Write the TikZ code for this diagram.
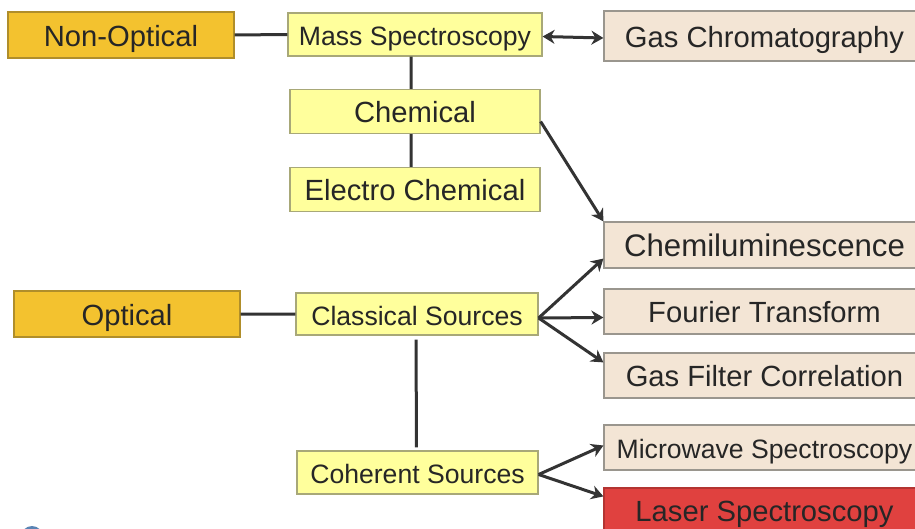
\documentclass[tikz,border=0pt]{standalone}
\usepackage{fontspec}
\setmainfont{Liberation Sans}
\usetikzlibrary{calc, arrows.meta}
\definecolor{gold}{HTML}{F3C22F}
\definecolor{goldline}{HTML}{B08E2A}
\definecolor{lemon}{HTML}{FFFF9C}
\definecolor{lemonline}{HTML}{A8A878}
\definecolor{sand}{HTML}{F3E5D5}
\definecolor{sandline}{HTML}{9A968E}
\definecolor{laserred}{HTML}{E0413F}
\definecolor{wire}{HTML}{333333}
\definecolor{markblue}{HTML}{5A84B4}
\tikzset{>={Stealth[length=6pt,width=7pt]},
  box/.style={draw, line width=0.6pt, inner sep=0pt, text=black!85, text height=11.4pt, text depth=0pt},
  topbox/.style={box, fill=gold, draw=goldline, minimum width=113pt, minimum height=23pt, font=\fontsize{14.6}{16}\selectfont},
  midbox/.style={box, fill=lemon, draw=lemonline, minimum width=125pt, minimum height=22pt, font=\fontsize{13.3}{15}\selectfont},
  endbox/.style={box, fill=sand, draw=sandline, minimum width=160.5pt, minimum height=22.5pt, font=\fontsize{14.6}{16}\selectfont},
  wire/.style={draw=wire, line width=1.5pt}
}
\begin{document}
\begin{tikzpicture}[x=0.5pt, y=-0.5pt]
\useasboundingbox (0,0) rectangle (915,529);
\clip (0,0) rectangle (915,529);
% left column
\node[topbox] (nonopt) at (121,35) {Non-Optical};
\node[topbox] (optical) at (127,314) {Optical};
% middle column
\node[midbox, minimum width=127pt, minimum height=21.5pt] (mass) at (415,34.5) {Mass Spectroscopy};
\node[midbox, font=\fontsize{14.6}{16}\selectfont] (chem) at (415,111.5) {Chemical};
\node[midbox, font=\fontsize{14.6}{16}\selectfont] (electro) at (415,189.5) {Electro Chemical};
\node[midbox, minimum width=121pt, minimum height=21pt] (classical) at (417,314) {Classical Sources};
\node[midbox, minimum width=120.5pt, minimum height=21.5pt] (coherent) at (417.5,472.5) {Coherent Sources};
% right column
\node[endbox, minimum height=25pt] (gaschrom) at (764.5,36) {Gas Chromatography};
\node[endbox, minimum height=23pt, font=\fontsize{15.6}{17}\selectfont] (chemlum) at (764.5,245) {Chemiluminescence};
\node[endbox] (fourier) at (764.5,311.5) {Fourier Transform};
\node[endbox] (gasfilter) at (764.5,375.5) {Gas Filter Correlation};
\node[endbox, font=\fontsize{13.3}{15}\selectfont] (microwave) at (764.5,447.5) {Microwave Spectroscopy};
\node[endbox, fill=laserred, draw=laserred!80!black, minimum height=22pt] (laser) at (764.5,510) {Laser Spectroscopy};
% connectors
\path[wire]
(nonopt.east) -- (mass.west)
(optical.east) -- (classical.west);
\path[wire, shorten <=2pt, shorten >=1.5pt]
([xshift=-2pt]mass.south) -- ([xshift=-2pt]chem.north)
([xshift=-2pt]chem.south) -- ([xshift=-2pt]electro.north)
([xshift=-0.5pt]classical.south) -- ([xshift=-0.5pt]coherent.north);
\path[wire, <->] ([yshift=-1pt]mass.east) -- ([yshift=-1pt]gaschrom.west);
\path[wire, ->] ([yshift=-5pt]chem.east) -- (chemlum.north west);
\path[wire, ->] ([yshift=-2pt]classical.east) -- ([yshift=5pt]chemlum.south west);
\path[wire, ->] ([yshift=-2pt]classical.east) -- ([yshift=-3pt]fourier.west);
\path[wire, ->] ([yshift=-2pt]classical.east) -- ([yshift=-5pt]gasfilter.north west);
\path[wire, ->] ([yshift=-1pt]coherent.east) -- ([yshift=1pt]microwave.west);
\path[wire, ->] ([yshift=-1pt]coherent.east) -- ([yshift=-4.5pt]laser.north west);
% corner mark
\fill[markblue] (32,537) circle (5.5pt);
\end{tikzpicture}
\end{document}
